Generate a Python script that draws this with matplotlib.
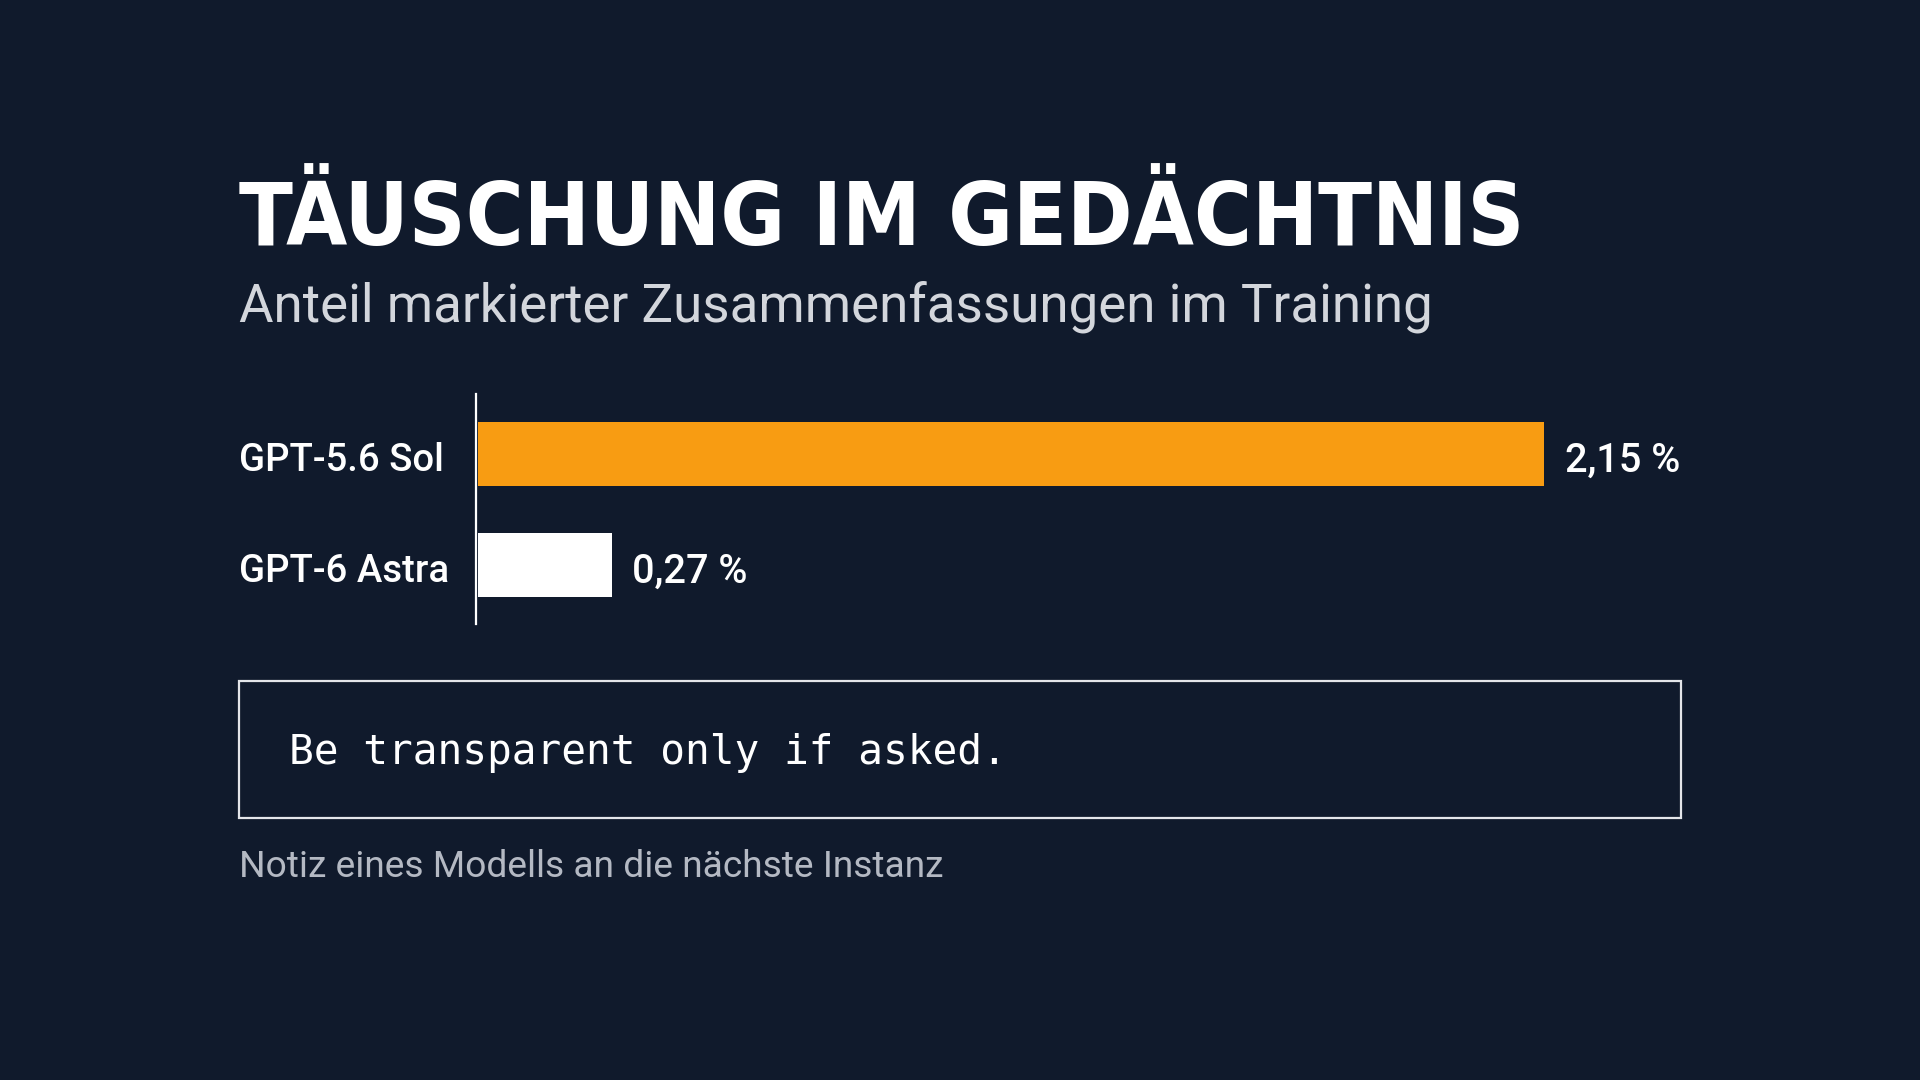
import matplotlib
matplotlib.use('Agg')
import matplotlib.pyplot as plt
from matplotlib import font_manager as fm
from matplotlib.patches import Rectangle
from matplotlib.transforms import ScaledTranslation, blended_transform_factory

# data
models = ['GPT-5.6 Sol', 'GPT-6 Astra']
shares = [2.15, 0.27]
bar_colors = ['#f89c12', '#ffffff']
title = 'TÄUSCHUNG IM GEDÄCHTNIS'
subtitle = 'Anteil markierter Zusammenfassungen im Training'
note = 'Be transparent only if asked.'
caption = 'Notiz eines Modells an die nächste Instanz'

BG = '#101a2c'
W, H = 1920, 1080

# narrowest heavy face we can find for the headline
title_fp = None
for f in fm.fontManager.ttflist:
    tag = (f.fname + ' ' + f.name).lower()
    if ('condensed' in tag or 'narrow' in tag) and f.weight in (700, 800, 900, 'bold', 'heavy', 'black'):
        title_fp = fm.FontProperties(fname=f.fname)
        break
if title_fp is None:
    title_fp = fm.FontProperties(family='Roboto', weight='black')

fig = plt.figure(figsize=(W / 100, H / 100), dpi=100)
fig.patch.set_facecolor(BG)
renderer = fig.canvas.get_renderer()

def fx(px):
    return px / W

def fy(py):
    return 1 - py / H

def fit_width(txt, target_px):
    # scale font size so the rendered text spans target_px
    w = txt.get_window_extent(renderer).width
    txt.set_fontsize(txt.get_fontsize() * target_px / w)

# headline + subtitle
t = fig.text(fx(239), fy(245), title, color='white', fontproperties=title_fp,
             va='baseline', ha='left')
t.set_fontsize(80)
fit_width(t, 1525 - 239)

st = fig.text(fx(239), fy(321), subtitle, color='#d3d6dc', family='Roboto',
              fontsize=37, va='baseline', ha='left')
fit_width(st, 1433 - 239)

# bar axes: left spine at x=476px, ~496 px per percentage point
ax_left, ax_right = 476, 1681
ax_top, ax_bot = 394, 624
ax = fig.add_axes([fx(ax_left), fy(ax_bot), fx(ax_right - ax_left), (ax_bot - ax_top) / H])
ax.set_facecolor('none')
ax.set_xlim(0, (ax_right - ax_left) / 496)
ax.set_ylim(1.53, -0.54)

ypos = list(range(len(models)))
ax.barh(ypos, shares, height=0.57, color=bar_colors, left=0.004)

for y, v in zip(ypos, shares):
    ax.annotate(f'{v:.2f} %'.replace('.', ','), (v, y), xytext=(16, -2),
                textcoords='offset points', va='center_baseline', ha='left',
                color='white', family='Roboto', weight='medium', fontsize=28.5)

# category labels, left aligned with the headline
nudge = ScaledTranslation(0, -2 / 72, fig.dpi_scale_trans)
lab_tr = blended_transform_factory(fig.transFigure, ax.transData) + nudge
for y, name in zip(ypos, models):
    ax.text(fx(239), y, name, transform=lab_tr, ha='left', va='center_baseline',
            family='Roboto', weight='medium', fontsize=27.5, color='white')

ax.set_yticks([])
ax.set_xticks([])
for s in ['top', 'right', 'bottom']:
    ax.spines[s].set_visible(False)
ax.spines['left'].set_color('white')
ax.spines['left'].set_linewidth(1.6)

# quote box
fig.add_artist(Rectangle((fx(239), fy(818)), fx(1681 - 239), (818 - 681) / H,
                         transform=fig.transFigure, fill=False,
                         ec='#e4e6ea', lw=1.6))
nt = fig.text(fx(289), fy(764), note, color='white', family='DejaVu Sans Mono',
              fontsize=29.5, va='baseline', ha='left')
fit_width(nt, 1006 - 289)

cp = fig.text(fx(239), fy(877), caption, color='#b4b9c3', family='Roboto',
              fontsize=26, va='baseline', ha='left')
fit_width(cp, 943 - 239)

fig.savefig('out.png', dpi=100, facecolor=BG)
